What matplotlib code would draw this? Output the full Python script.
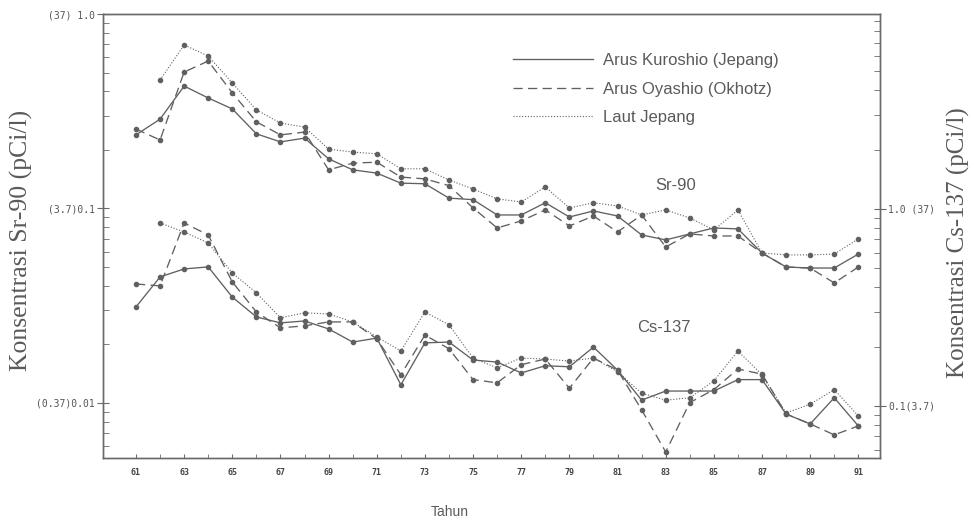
import numpy as np
import matplotlib
matplotlib.use("Agg")
import matplotlib.pyplot as plt
from matplotlib.lines import Line2D
from matplotlib.ticker import FixedLocator, LogLocator, NullFormatter

years = list(range(1961, 1992))
nan = np.nan

# Sr-90 (left axis, pCi/l)
sr_kuroshio = [0.239, 0.288, 0.426, 0.370, 0.325, 0.242, 0.220, 0.230, 0.180, 0.158,
               0.152, 0.135, 0.134, 0.113, 0.111, 0.0926, 0.0926, 0.107, 0.0904, 0.0971,
               0.0915, 0.0731, 0.0689, 0.0740, 0.0794, 0.0785, 0.0590, 0.0500, 0.0494, 0.0494,
               0.0583]
sr_oyashio = [0.256, 0.225, 0.503, 0.573, 0.393, 0.279, 0.239, 0.247, 0.158, 0.171,
              0.173, 0.145, 0.142, 0.131, 0.1006, 0.0794, 0.0863, 0.0983, 0.0813, 0.0915,
              0.0757, 0.0926, 0.0634, 0.0740, 0.0722, 0.0722, 0.0590, 0.0500, 0.0494, 0.0414,
              0.0500]
sr_laut = [nan, 0.458, 0.693, 0.608, 0.442, 0.321, 0.275, 0.262, 0.202, 0.195,
           0.191, 0.160, 0.160, 0.140, 0.126, 0.112, 0.108, 0.129, 0.1006, 0.107,
           0.103, 0.0926, 0.0983, 0.0894, 0.0775, 0.0983, 0.0590, 0.0577, 0.0577, 0.0583,
           0.0697]

# Cs-137 (right axis, pCi/l)
cs_kuroshio = [0.318, 0.452, 0.496, 0.508, 0.357, 0.283, 0.264, 0.270, 0.246, 0.211,
               0.221, 0.128, 0.209, 0.211, 0.171, 0.167, 0.147, 0.160, 0.158, 0.199,
               0.152, 0.107, 0.119, 0.119, 0.119, 0.136, 0.136, 0.0910, 0.0810, 0.110,
               0.0791]
cs_oyashio = [0.416, 0.407, 0.849, 0.738, 0.426, 0.300, 0.249, 0.255, 0.267, 0.267,
              0.219, 0.144, 0.229, 0.195, 0.136, 0.131, 0.162, 0.173, 0.123, 0.175,
              0.152, 0.0955, 0.0584, 0.104, 0.121, 0.154, 0.145, 0.0910, 0.0810, 0.0713,
              0.0791]
cs_laut = [nan, 0.849, 0.764, 0.672, 0.473, 0.375, 0.280, 0.297, 0.293, 0.267,
           0.224, 0.190, 0.300, 0.258, 0.175, 0.156, 0.175, 0.173, 0.169, 0.175,
           0.149, 0.116, 0.107, 0.110, 0.134, 0.190, 0.144, 0.0921, 0.102, 0.121,
           0.0889]

series_labels = ["Arus Kuroshio (Jepang)", "Arus Oyashio (Okhotz)", "Laut Jepang"]
xtick_years = list(range(1961, 1992, 2))
xtick_labels = [str(y % 100) for y in xtick_years]
left_ticks = [0.01, 0.1, 1.0]
left_ticklabels = ["(0.37)0.01", "(3.7)0.1", "(37) 1.0"]
right_ticks = [0.1, 1.0]
right_ticklabels = ["0.1(3.7)", "1.0 (37)"]

line_col = "#606060"
text_col = "#5a5a5a"
styles = [dict(ls="-", lw=0.95),
          dict(ls=(0, (7, 4)), lw=0.95),
          dict(ls=(0, (1, 1.6)), lw=0.8)]

fig = plt.figure(figsize=(9.74, 5.26), dpi=100)
ax = fig.add_axes([103/974, 1-458/526, (880-103)/974, (458-14)/526])
ax2 = ax.twinx()

ax.set_yscale("log")
ax2.set_yscale("log")
ax.set_xlim(1959.63, 1991.9)
ax.set_ylim(0.00521, 1.0)
ax2.set_ylim(0.0544, 9.77)

for vals, st in zip([sr_kuroshio, sr_oyashio, sr_laut], styles):
    ax.plot(years, vals, color=line_col, marker="o", ms=3, mec=line_col, mfc=line_col, **st)
for vals, st in zip([cs_kuroshio, cs_oyashio, cs_laut], styles):
    ax2.plot(years, vals, color=line_col, marker="o", ms=3, mec=line_col, mfc=line_col, **st)

# axes styling
for a in (ax, ax2):
    for s in a.spines.values():
        s.set_color("#6a6a6a")
        s.set_linewidth(1.0)

ax.set_xticks(xtick_years)
ax.set_xticklabels(xtick_labels, family="DejaVu Sans Mono", fontsize=6, fontweight="bold", color="#444444")
ax.xaxis.set_minor_locator(FixedLocator(years))
ax.tick_params(axis="x", which="both", direction="in", length=3, color="#6a6a6a", pad=7)

ax.yaxis.set_major_locator(FixedLocator(left_ticks))
ax.set_yticklabels(left_ticklabels, family="DejaVu Sans Mono", fontsize=7, color="#555555")
ax.yaxis.set_minor_locator(LogLocator(base=10, subs=np.arange(2, 10)))
ax.yaxis.set_minor_formatter(NullFormatter())
ax.tick_params(axis="y", which="major", direction="inout", length=8, color="#6a6a6a", pad=2)
ax.tick_params(axis="y", which="minor", direction="in", length=4, color="#6a6a6a")

ax2.yaxis.set_major_locator(FixedLocator(right_ticks))
ax2.set_yticklabels(right_ticklabels, family="DejaVu Sans Mono", fontsize=7, color="#555555")
ax2.yaxis.set_minor_locator(LogLocator(base=10, subs=np.arange(2, 10)))
ax2.yaxis.set_minor_formatter(NullFormatter())
ax2.tick_params(axis="y", which="major", direction="inout", length=8, color="#6a6a6a", pad=2)
ax2.tick_params(axis="y", which="minor", direction="in", length=4, color="#6a6a6a")

# axis labels
fig.text(21/974, 1-240/526, "Konsentrasi Sr-90 (pCi/l)", rotation=90, ha="center", va="center",
         family="Liberation Serif", fontsize=18.5, color=text_col)
fig.text(958/974, 1-243/526, "Konsentrasi Cs-137 (pCi/l)", rotation=90, ha="center", va="center",
         family="Liberation Serif", fontsize=18, color=text_col)
fig.text(450/974, 1-512/526, "Tahun", ha="center", va="center",
         family="Liberation Sans", fontsize=10, color=text_col)

# series annotations
ax.text((676-103)/777, (458-185)/444, "Sr-90", transform=ax.transAxes, ha="center", va="center",
        family="Liberation Sans", fontsize=12, color=text_col)
ax.text((664-103)/777, (458-327)/444, "Cs-137", transform=ax.transAxes, ha="center", va="center",
        family="Liberation Sans", fontsize=12, color=text_col)

handles = [Line2D([], [], color=line_col, **st) for st in styles]
leg = ax.legend(handles, series_labels, loc="upper left", bbox_to_anchor=((513-103)/777, (458-53)/444),
                frameon=False, borderpad=0, borderaxespad=0, handlelength=4.8, handletextpad=0.6,
                labelspacing=0.82, prop={"family": "Liberation Sans", "size": 12})
for t in leg.get_texts():
    t.set_color(text_col)

fig.savefig("out.png", dpi=100)
